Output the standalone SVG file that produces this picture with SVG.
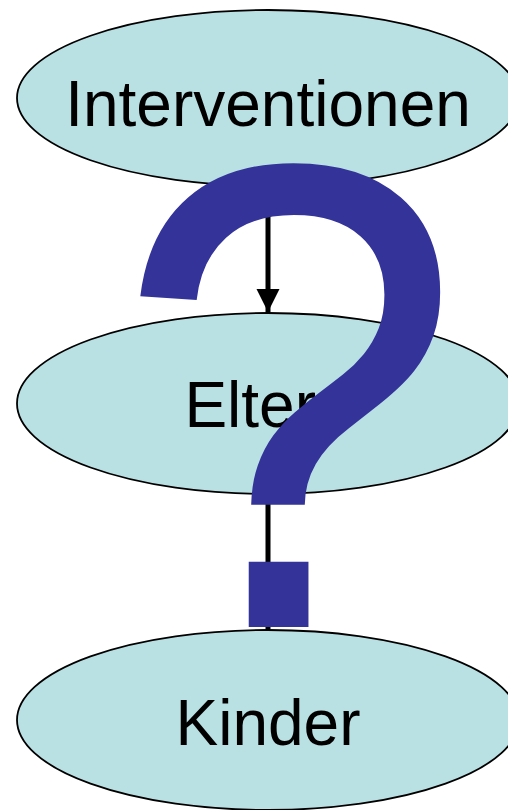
<svg xmlns="http://www.w3.org/2000/svg" width="508" height="810" viewBox="0 0 508 810">
<style>
.node ellipse{fill:#B9E0E3;stroke:#000;stroke-width:1.8}
.node text{font-family:"Liberation Sans",Arial,sans-serif;font-size:64px;fill:#000;text-anchor:middle}
.conn line{stroke:#000;stroke-width:5}
.q{font-family:"Liberation Sans",Arial,sans-serif;font-size:650px;fill:#333399;text-anchor:middle}
</style>
<defs>
<marker id="ah" viewBox="0 0 10 10" refX="10" refY="5" markerWidth="4.6" markerHeight="5" markerUnits="strokeWidth" orient="auto">
<path d="M0,0 L10,5 L0,10 z" fill="#000"/>
</marker>
</defs>
<rect width="508" height="810" fill="#fff"/>
<g id="n1" class="node"><ellipse cx="268" cy="98" rx="251" ry="88"/><text x="268" y="126">Interventionen</text></g>
<g id="n2" class="node"><ellipse cx="268" cy="403.5" rx="251" ry="90.5"/><text x="268" y="427">Eltern</text></g>
<g id="n3" class="node"><ellipse cx="268" cy="720" rx="251" ry="90"/><text x="268" y="745">Kinder</text></g>
<g id="connectors" class="conn">
<line x1="268" y1="186" x2="268" y2="312" marker-end="url(#ah)"/>
<line x1="268" y1="494" x2="268" y2="629" marker-end="url(#ah)"/>
</g>
<text class="q" x="0" y="0" transform="translate(289,627) scale(0.965,1.022)">?</text>
</svg>
